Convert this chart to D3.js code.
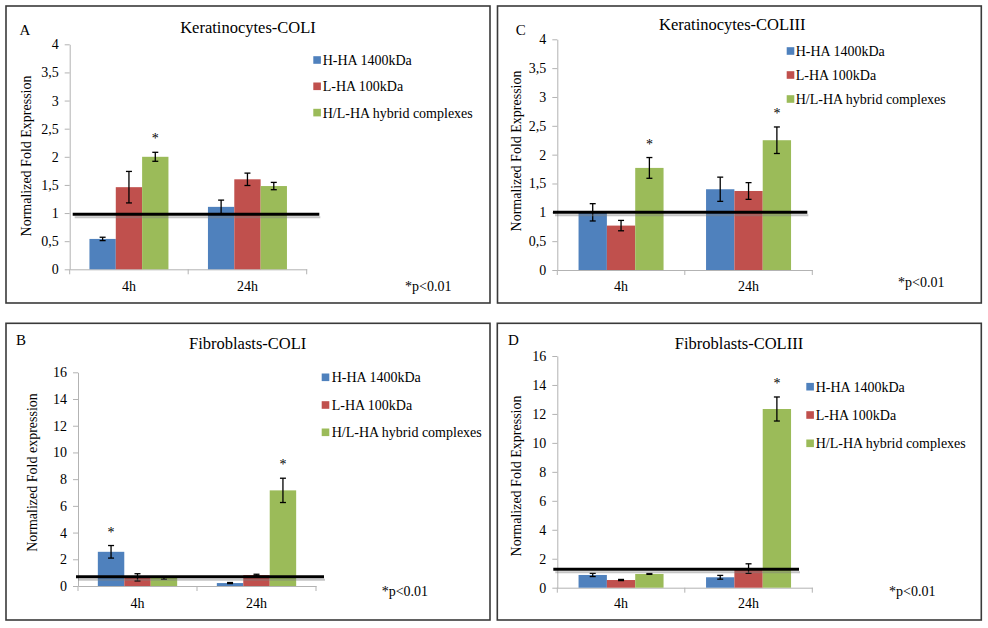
<!DOCTYPE html>
<html><head><meta charset="utf-8">
<script src="https://cdn.jsdelivr.net/npm/d3@7"></script>
<style>
body{margin:0;background:#fff}
svg{display:block}
svg text{font-family:"Liberation Serif","Tinos","Times New Roman","DejaVu Serif",serif !important;fill:#000}
</style>
</head><body>
<svg id="chart" width="988" height="628"></svg>
<script>
// ---------- DATA ----------
const categories = ["4h", "24h"];
const seriesNames = ["H-HA 1400kDa", "L-HA 100kDa", "H/L-HA hybrid complexes"];
const seriesColors = ["#4F81BD", "#C0504D", "#9BBB59"];

// rows = categories (4h, 24h); columns = series (H-HA, L-HA, H/L-HA)
const kerColIMeans   = [[0.54, 1.46, 2.00], [1.11, 1.60, 1.48]];
const kerColIErrors  = [[0.03, 0.28, 0.08], [0.12, 0.11, 0.065]];
const kerColIStars   = [[0, 0, 1], [0, 0, 0]];

const kerColIIIMeans  = [[1.00, 0.77, 1.77], [1.40, 1.37, 2.25]];
const kerColIIIErrors = [[0.15, 0.09, 0.18], [0.21, 0.145, 0.23]];
const kerColIIIStars  = [[0, 0, 1], [0, 0, 1]];

const fibColIMeans   = [[2.56, 0.65, 0.60], [0.22, 0.82, 7.16]];
const fibColIErrors  = [[0.47, 0.27, 0.10], [0.04, 0.06, 0.91]];
const fibColIStars   = [[1, 0, 0], [0, 0, 1]];

const fibColIIIMeans  = [[0.88, 0.53, 0.95], [0.72, 1.32, 12.34]];
const fibColIIIErrors = [[0.11, 0.04, 0.03], [0.13, 0.33, 0.83]];
const fibColIIIStars  = [[0, 0, 0], [0, 0, 1]];

const yTicksKer = [0, 0.5, 1, 1.5, 2, 2.5, 3, 3.5, 4];
const yTicksFib = [0, 2, 4, 6, 8, 10, 12, 14, 16];

const panelTitles  = ["Keratinocytes-COLI", "Keratinocytes-COLIII", "Fibroblasts-COLI", "Fibroblasts-COLIII"];
const panelLetters = ["A", "C", "B", "D"];
const yAxisTitles  = ["Normalized Fold Expression", "Normalized Fold Expression", "Normalized Fold expression", "Normalized Fold Expression"];
const refLineValues = [0.98, 1.0, 0.7, 1.28];
const pNoteText = "*p<0.01";

// ---------- LAYOUT ----------
const FONT = '"Liberation Serif","Tinos","Times New Roman","DejaVu Serif",serif';
const panels = [
  {means: kerColIMeans, errs: kerColIErrors, stars: kerColIStars, ticks: yTicksKer,
   box: [6, 6, 490, 303], x: [69.7, 306.7], y: [269.3, 44.3],
   title: [248, 33], letter: [25, 35], legend: {sx: 313.3, tx: 322.7, rows: [60, 86.3, 112.6]},
   note: [405, 291], xlabBase: 291, ytitle: [25.7, 156], line: [72.7, 319.3]},
  {means: kerColIIIMeans, errs: kerColIIIErrors, stars: kerColIIIStars, ticks: yTicksKer,
   box: [497.5, 6, 981.3, 303], x: [557.3, 812.3], y: [270, 39.3],
   title: [732.3, 30], letter: [520.7, 35], legend: {sx: 786.7, tx: 795.7, rows: [51, 75, 99]},
   note: [898, 287], xlabBase: 291, ytitle: [516.3, 151], line: [553, 807.3]},
  {means: fibColIMeans, errs: fibColIErrors, stars: fibColIStars, ticks: yTicksFib,
   box: [6, 323.3, 490, 620], x: [78, 316], y: [586, 372.3],
   title: [247.7, 349], letter: [21, 345], legend: {sx: 321.7, tx: 331.7, rows: [377.3, 405, 432.3]},
   note: [381.7, 596], xlabBase: 608, ytitle: [32.3, 472.5], line: [76, 324]},
  {means: fibColIIIMeans, errs: fibColIIIErrors, stars: fibColIIIStars, ticks: yTicksFib,
   box: [497.3, 323.3, 981.3, 620], x: [557.3, 812.3], y: [587.7, 356],
   title: [739, 349], letter: [513.3, 345], legend: {sx: 806.3, tx: 815.7, rows: [386.7, 415, 443.3]},
   note: [889, 596], xlabBase: 608, ytitle: [516.3, 476], line: [553.3, 799]}
];

const svg = d3.select("#chart").attr("font-family", FONT);
const fmt = v => String(v).replace(".", ",");
const axisColor = "#b3b3b3";

panels.forEach((p, i) => {
  const g = svg.append("g");
  g.append("rect")
    .attr("x", p.box[0]).attr("y", p.box[1])
    .attr("width", p.box[2] - p.box[0]).attr("height", p.box[3] - p.box[1])
    .attr("fill", "none").attr("stroke", "#3a3a3a").attr("stroke-width", 1.6);

  const yMax = p.ticks[p.ticks.length - 1];
  const y = d3.scaleLinear().domain([0, yMax]).range(p.y);
  const x0 = d3.scaleBand().domain(categories).range(p.x).paddingInner(1/3).paddingOuter(1/6);
  const x1 = d3.scaleBand().domain(d3.range(seriesNames.length)).range([0, x0.bandwidth()]).padding(0);
  const step = x0.step();

  const yAx = g.append("g").attr("transform", `translate(${p.x[0]},0)`)
    .call(d3.axisLeft(y).tickValues(p.ticks).tickFormat(fmt).tickSize(5).tickSizeOuter(0).tickPadding(6));
  yAx.attr("font-family", FONT);
  yAx.select(".domain").attr("stroke", axisColor);
  yAx.selectAll(".tick line").attr("stroke", axisColor);
  yAx.selectAll(".tick text").attr("font-size", 14).attr("fill", "#000");

  const xAx = g.append("g").attr("transform", `translate(0,${p.y[0]})`)
    .call(d3.axisBottom(x0).tickSize(0).tickPadding(p.xlabBase - p.y[0] - 9.94));
  xAx.attr("font-family", FONT);
  xAx.select(".domain").attr("stroke", axisColor);
  xAx.selectAll(".tick text").attr("font-size", 14).attr("fill", "#000");
  const bounds = [p.x[0]].concat(categories.map((c, k) => p.x[0] + step * (k + 1)));
  g.selectAll(".xb").data(bounds).enter().append("line")
    .attr("x1", d => d).attr("x2", d => d)
    .attr("y1", p.y[0]).attr("y2", p.y[0] + 5)
    .attr("stroke", axisColor);

  const groups = g.selectAll(".grp").data(categories).enter().append("g")
    .attr("transform", c => `translate(${x0(c)},0)`);
  groups.each(function(c, ci) {
    const gg = d3.select(this);
    const rows = p.means[ci].map((v, si) => ({v, e: p.errs[ci][si], s: p.stars[ci][si], si}));
    gg.selectAll("rect").data(rows).enter().append("rect")
      .attr("x", d => x1(d.si)).attr("width", x1.bandwidth())
      .attr("y", d => y(d.v)).attr("height", d => y(0) - y(d.v))
      .attr("fill", d => seriesColors[d.si]);
    const eb = gg.selectAll(".eb").data(rows).enter().append("g");
    const cx = d => x1(d.si) + x1.bandwidth() / 2;
    eb.append("line").attr("x1", cx).attr("x2", cx)
      .attr("y1", d => y(d.v + d.e)).attr("y2", d => y(Math.max(0, d.v - d.e)))
      .attr("stroke", "#000").attr("stroke-width", 1.3);
    [1, -1].forEach(sg => {
      eb.append("line").attr("x1", d => cx(d) - 3).attr("x2", d => cx(d) + 3)
        .attr("y1", d => y(d.v + sg * d.e)).attr("y2", d => y(d.v + sg * d.e))
        .attr("stroke", "#000").attr("stroke-width", 1.3);
    });
    gg.selectAll(".st").data(rows.filter(d => d.s)).enter().append("text")
      .attr("x", cx).attr("y", d => y(d.v + d.e) - 9)
      .attr("text-anchor", "middle").attr("font-size", 14).text("*");
  });

  const ry = y(refLineValues[i]);
  g.append("line").attr("x1", p.line[0] + 2).attr("x2", p.line[1] + 1)
    .attr("y1", ry + 3).attr("y2", ry + 3)
    .attr("stroke", "#7f7f7f").attr("stroke-width", 2).attr("opacity", 0.45);
  g.append("line").attr("x1", p.line[0]).attr("x2", p.line[1])
    .attr("y1", ry).attr("y2", ry)
    .attr("stroke", "#000").attr("stroke-width", 3);

  g.append("text").attr("x", p.title[0]).attr("y", p.title[1])
    .attr("text-anchor", "middle").attr("font-size", 16.5).text(panelTitles[i]);
  g.append("text").attr("x", p.letter[0]).attr("y", p.letter[1])
    .attr("text-anchor", "middle").attr("font-size", 15).text(panelLetters[i]);

  g.append("text")
    .attr("transform", `translate(${p.ytitle[0]},${p.ytitle[1]}) rotate(-90)`)
    .attr("text-anchor", "middle").attr("dy", "0.35em").attr("font-size", 14)
    .text(yAxisTitles[i]);

  const lg = g.selectAll(".lg").data(seriesNames).enter().append("g");
  lg.append("rect").attr("x", p.legend.sx).attr("y", (d, k) => p.legend.rows[k] - 3.8)
    .attr("width", 7.6).attr("height", 7.6).attr("fill", (d, k) => seriesColors[k]);
  lg.append("text").attr("x", p.legend.tx).attr("y", (d, k) => p.legend.rows[k] + 5)
    .attr("font-size", 14).text(d => d);

  g.append("text").attr("x", p.note[0]).attr("y", p.note[1]).attr("font-size", 14).text(pNoteText);
});
</script>
</body></html>
